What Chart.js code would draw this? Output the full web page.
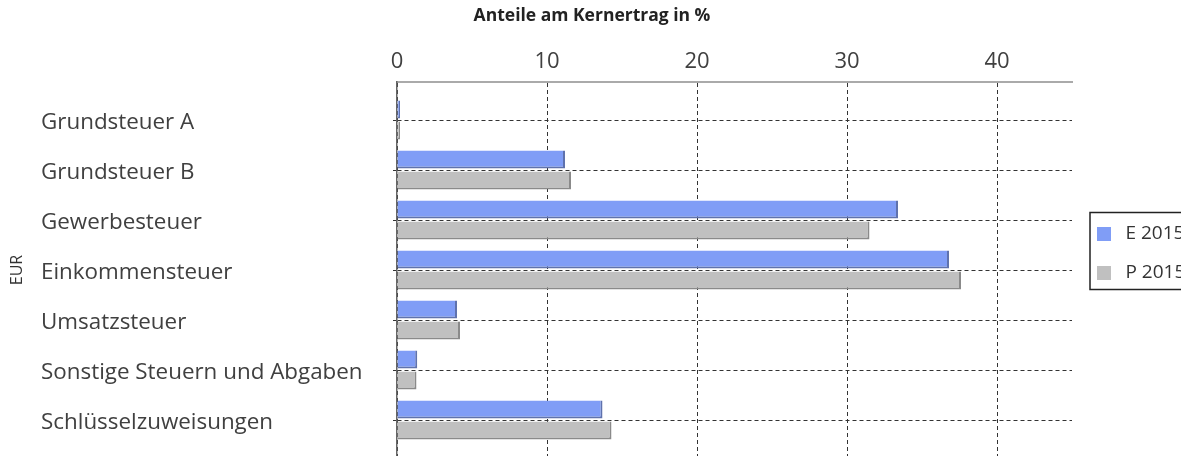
<!DOCTYPE html>
<html lang="de">
<head>
<meta charset="utf-8">
<title>Anteile am Kernertrag in %</title>
<script src="https://cdn.jsdelivr.net/npm/chart.js@4.4.1/dist/chart.umd.min.js"></script>
<style>
  html, body { margin: 0; padding: 0; background: #fff; overflow: hidden; }
  .chartContainer { position: relative; width: 1201px; height: 507px; }
</style>
</head>
<body>
<div class="chartContainer"><canvas id="myChart" width="1201" height="507"></canvas></div>
<script>
// ------------------------Data------------------------------------------------
const categories = [
  'Grundsteuer A',
  'Grundsteuer B',
  'Gewerbesteuer',
  'Einkommensteuer',
  'Umsatzsteuer',
  'Sonstige Steuern und Abgaben',
  'Schlüsselzuweisungen'
]
const seriesNames = ['E 2015', 'P 2015']
const valuesE2015 = [0.2, 11.2, 33.4, 36.8, 4.0, 1.35, 13.7]
const valuesP2015 = [0.2, 11.6, 31.5, 37.6, 4.2, 1.3, 14.3]
const xTicks = [0, 10, 20, 30, 40]

Chart.defaults.font.family = "'Open Sans', sans-serif"

const gridStyle = { color: '#333', lineWidth: 1, tickColor: '#333', tickBorderDash: [4, 3], offset: false }
const setXTicks = (scale) => { scale.ticks = xTicks.map(v => ({ value: v })) }

// ------------------------Legend swatches-------------------------------------
// small square drawn in the middle of a wider legend slot
const swatchSize = 14
const swatchSlot = 24
const makeSwatch = (color) => {
  const swatch = document.createElement('canvas')
  swatch.width = swatchSize
  swatch.height = swatchSize
  const g = swatch.getContext('2d')
  g.fillStyle = color
  g.fillRect(0, 0, swatchSize, swatchSize)
  return swatch
}

const legendFrame = {
  id: 'legendFrame',
  afterDraw(chart) {
    const boxes = chart.legend.legendHitBoxes
    if (!boxes || !boxes.length) return
    const first = boxes[0]
    const last = boxes[boxes.length - 1]
    const left = first.left + (swatchSlot - swatchSize) / 2 - 7
    const top = first.top - 12
    const bottom = last.top + last.height + 7
    const ctx = chart.ctx
    ctx.save()
    ctx.strokeStyle = '#222'
    ctx.lineWidth = 1.5
    ctx.strokeRect(left, top, chart.width, bottom - top)
    ctx.restore()
  }
}

// ------------------------Bar series------------------------------------------
const makeSeries = (label, values, fill, edge) => ({
  label,
  data: values.map((v, i) => ({ x: v, y: i })),
  backgroundColor: fill,
  borderColor: edge,
  borderWidth: { top: 0, right: 2, bottom: 2, left: 0 },
  borderSkipped: false,
  categoryPercentage: 0.84,
  barPercentage: 0.86
})

// ------------------------Initialize Chart------------------------------------
const chartConfig = {
  type: 'bar',
  data: {
    datasets: [
      makeSeries(seriesNames[0], valuesE2015, '#809df6', '#5f72ad'),
      makeSeries(seriesNames[1], valuesP2015, '#c0c0c0', '#8a8a8a')
    ]
  },
  plugins: [legendFrame],
  options: {
    indexAxis: 'y',
    responsive: false,
    animation: false,
    // left edge pulled in so the title sits over the left part of the page
    layout: { padding: { left: -17, right: 0, top: 0, bottom: 0 } },
    plugins: {
      tooltip: { enabled: false },
      title: {
        display: true,
        text: 'Anteile am Kernertrag in %',
        color: '#222',
        font: { size: 17.5, weight: 'bold' },
        padding: { top: 6, bottom: 21 }
      },
      legend: {
        position: 'right',
        labels: {
          color: '#333',
          font: { size: 19 },
          usePointStyle: true,
          pointStyleWidth: swatchSlot,
          boxHeight: swatchSize,
          padding: 20,
          generateLabels: (chart) => Chart.defaults.plugins.legend.labels.generateLabels(chart)
            .map(item => ({ ...item, lineWidth: 0, pointStyle: makeSwatch(item.fillStyle) }))
        }
      }
    },
    scales: {
      x: {
        type: 'linear',
        position: 'top',
        min: 0,
        max: 45,
        afterBuildTicks: setXTicks,
        afterFit: (scale) => { scale.height = 34; scale.paddingRight = 129 },
        ticks: { color: '#404040', font: { size: 22 }, padding: 7 },
        grid: { ...gridStyle, drawTicks: false },
        border: { color: '#aaa', width: 2, dash: [4, 3] }
      },
      x2: {
        type: 'linear',
        axis: 'x',
        position: 'bottom',
        min: 0,
        max: 45,
        afterBuildTicks: setXTicks,
        afterFit: (scale) => { scale.height = 49 },
        ticks: { color: '#404040', font: { size: 22 } },
        grid: { display: false, drawTicks: false },
        border: { display: false }
      },
      y: {
        type: 'linear',
        position: 'left',
        reverse: true,
        offset: false,
        min: -0.76,
        max: 6.76,
        afterBuildTicks: (scale) => { scale.ticks = categories.map((c, i) => ({ value: i })) },
        afterFit: (scale) => { scale.width = 356 },
        ticks: {
          callback: (value) => categories[value],
          crossAlign: 'far',
          labelOffset: 3,
          color: '#404040',
          font: { size: 22.4 }
        },
        grid: { ...gridStyle, tickLength: 4 },
        border: { color: '#666', width: 1.5, dash: [4, 3] }
      },
      eur: {
        type: 'linear',
        axis: 'y',
        position: 'left',
        weight: 1,
        afterFit: (scale) => { scale.width = 58 },
        ticks: { display: false },
        grid: { display: false },
        border: { display: false },
        title: {
          display: true,
          text: 'EUR',
          color: '#333',
          font: { size: 16 },
          padding: { top: 24.5, bottom: 0 }
        }
      }
    }
  }
}

const chartCanvas = document.getElementById('myChart')
const myChart = new Chart(chartCanvas, chartConfig)
</script>
</body>
</html>
